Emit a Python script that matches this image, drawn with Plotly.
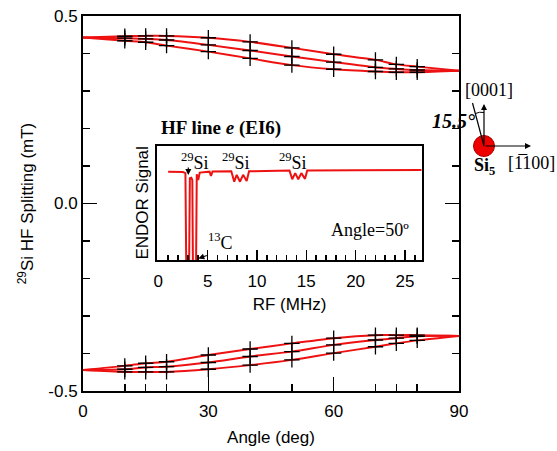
import plotly.graph_objects as go

# ---------------- data ----------------
angles = [0, 10, 15, 20, 30, 40, 50, 60, 70, 75, 80, 90]
upper_a = [0.443, 0.446, 0.447, 0.447, 0.442, 0.431, 0.415, 0.398, 0.383, 0.371, 0.365, 0.354]
upper_b = [0.443, 0.441, 0.439, 0.436, 0.423, 0.408, 0.392, 0.377, 0.363, 0.359, 0.356, 0.354]
upper_c = [0.443, 0.434, 0.430, 0.421, 0.405, 0.387, 0.369, 0.358, 0.352, 0.350, 0.350, 0.354]
lower_a = [-0.444, -0.433, -0.426, -0.422, -0.404, -0.388, -0.373, -0.359, -0.351, -0.351, -0.351, -0.353]
lower_b = [-0.444, -0.442, -0.437, -0.435, -0.424, -0.408, -0.395, -0.377, -0.364, -0.359, -0.354, -0.353]
lower_c = [-0.444, -0.449, -0.449, -0.449, -0.442, -0.431, -0.417, -0.399, -0.382, -0.373, -0.365, -0.353]

x_major_ticks = [0, 30, 60, 90]
x_major_labels = ["0", "30", "60", "90"]
x_minor_ticks = [10, 15, 20, 40, 50, 70, 75, 80]
y_major_ticks = [0.5, 0.0, -0.5]
y_major_labels = ["0.5", "0.0", "-0.5"]
y_minor_ticks = [0.4, 0.3, 0.2, 0.1, -0.1, -0.2, -0.3, -0.4]

# inset ENDOR spectrum (RF in MHz, signal in arbitrary units)
rf_mhz = [1.0, 2.5, 2.75, 2.88, 3.08, 3.2, 3.35, 3.45, 3.55, 3.79, 3.9, 4.05, 4.2,
          5.2, 5.34, 5.5, 7.4, 7.7, 7.95, 8.28, 8.6, 8.96, 9.2,
          13.3, 13.58, 13.88, 14.19, 14.5, 14.87, 15.1, 20.0, 26.7]
endor_signal = [0.773, 0.770, 0.760, -0.5, -0.5, 0.715, 0.720, 0.700, -0.5, -0.5, 0.750, 0.700, 0.765,
                0.773, 0.735, 0.774, 0.776, 0.685, 0.745, 0.685, 0.745, 0.690, 0.776,
                0.782, 0.707, 0.760, 0.707, 0.760, 0.710, 0.784, 0.786, 0.788]
inset_major_ticks = [0, 5, 10, 15, 20, 25]
inset_minor_ticks = [1, 2, 3, 4, 6, 7, 8, 9, 11, 12, 13, 14, 16, 17, 18, 19, 21, 22, 23, 24, 26]

# ---------------- layout helpers ----------------
FIG_W, FIG_H = 557, 451
L, T, W, H = 83, 16, 376, 375


def px(x):
    return (x - L) / W


def py(y):
    return (T + H - y) / H


RED = "#ee1111"
SANS = "Liberation Sans, Arial, sans-serif"
SERIF = "Liberation Serif, Times New Roman, serif"
FS = 17

fig = go.Figure()

for ys in [upper_a, upper_b, upper_c, lower_a, lower_b, lower_c]:
    fig.add_trace(go.Scatter(x=angles, y=ys, mode="lines",
                             line=dict(color=RED, width=2, shape="spline", smoothing=0.8),
                             showlegend=False, hoverinfo="skip"))
for ys in [upper_a, upper_b, upper_c, lower_a, lower_b, lower_c]:
    fig.add_trace(go.Scatter(x=angles[1:-1], y=ys[1:-1], mode="markers",
                             marker=dict(symbol="cross-thin", size=11,
                                         line=dict(color="black", width=1.3)),
                             showlegend=False, hoverinfo="skip"))

fig.add_trace(go.Scatter(x=rf_mhz, y=endor_signal, mode="lines", xaxis="x2", yaxis="y2",
                         line=dict(color=RED, width=2), showlegend=False, hoverinfo="skip"))

fig.update_layout(
    width=FIG_W, height=FIG_H,
    margin=dict(l=L, r=FIG_W - L - W, t=T, b=FIG_H - T - H, autoexpand=False),
    paper_bgcolor="white", plot_bgcolor="white",
    font=dict(family=SANS, size=FS, color="black"),
    hovermode=False,
    xaxis=dict(range=[0, 90], showgrid=False, zeroline=False, automargin=False,
               showline=True, linecolor="black", linewidth=2, mirror=True,
               tickmode="array", tickvals=x_major_ticks, ticktext=x_major_labels,
               ticks="inside", ticklen=14, tickwidth=1.5, tickcolor="black",
               minor=dict(tickmode="array", tickvals=x_minor_ticks, ticks="inside",
                          ticklen=7, tickwidth=1.5, tickcolor="black"),
               tickfont=dict(size=FS), ticklabelstandoff=4,
               title=dict(text="Angle (deg)", font=dict(size=FS), standoff=11)),
    yaxis=dict(range=[-0.5, 0.5], showgrid=False, zeroline=False, automargin=False,
               showline=True, linecolor="black", linewidth=2, mirror="ticks",
               tickmode="array", tickvals=y_major_ticks, ticktext=y_major_labels,
               ticks="inside", ticklen=14, tickwidth=1.5, tickcolor="black",
               minor=dict(tickmode="array", tickvals=y_minor_ticks, ticks="inside",
                          ticklen=7, tickwidth=1.5, tickcolor="black"),
               tickfont=dict(size=FS),
               title=dict(text="<sup>29</sup>Si HF Splitting (mT)", font=dict(size=FS), standoff=10)),
    xaxis2=dict(domain=[px(157.3), px(421.7)], anchor="y2", range=[-0.1, 26.7],
                showgrid=False, zeroline=False, showline=True, linecolor="black",
                linewidth=2, mirror=True, automargin=False,
                tickmode="array", tickvals=inset_major_ticks,
                ticks="inside", ticklen=10, tickwidth=1.5, tickcolor="black",
                minor=dict(tickmode="array", tickvals=inset_minor_ticks, ticks="inside",
                           ticklen=5, tickwidth=1.5, tickcolor="black"),
                tickfont=dict(size=FS), ticklabelstandoff=5,
                title=dict(text="RF (MHz)", font=dict(size=FS), standoff=8)),
    yaxis2=dict(domain=[py(260), py(145.7)], anchor="x2", range=[0, 1],
                showgrid=False, zeroline=False, showline=True, linecolor="black",
                linewidth=2, mirror=True, showticklabels=False, ticks="", automargin=False,
                title=dict(text="ENDOR Signal", font=dict(size=FS), standoff=2)),
)

ann = []


def text(x, y, s, size=18, family=SERIF, xanchor="center"):
    ann.append(dict(x=px(x), y=py(y), xref="paper", yref="paper", text=s, showarrow=False,
                    font=dict(family=family, size=size, color="black"),
                    xanchor=xanchor, yanchor="middle"))


text(221, 128, "<b>HF line <i>e</i> (EI6)</b>", size=19)
text(195, 161, "<sup>29</sup>Si", size=18)
text(236, 161, "<sup>29</sup>Si", size=18)
text(292.5, 161, "<sup>29</sup>Si", size=18)
text(220, 241, "<sup>13</sup>C", size=18)
text(370, 230, "Angle=50º", size=18)
text(489, 90, "[0001]", size=18)
text(453, 121, "<b><i>15.5°</i></b>", size=20)
text(485, 166, "<b>Si<sub>5</sub></b>", size=18)
text(557, 163, "[1\u0305100]", size=18, xanchor="right")

# arrows
ann.append(dict(x=px(188.3), y=py(175), xref="paper", yref="paper", text="",
                showarrow=True, arrowhead=2, arrowsize=1, arrowwidth=1.2, arrowcolor="black",
                ax=0, ay=-9))
ann.append(dict(x=px(198.3), y=py(258.5), xref="paper", yref="paper", text="",
                showarrow=True, arrowhead=2, arrowsize=1, arrowwidth=1.2, arrowcolor="black",
                ax=10, ay=-3.5))
ann.append(dict(x=px(484), y=py(104), xref="paper", yref="paper", text="",
                showarrow=True, arrowhead=2, arrowsize=1, arrowwidth=1.2, arrowcolor="black",
                ax=0, ay=42))
ann.append(dict(x=px(531), y=py(146), xref="paper", yref="paper", text="",
                showarrow=True, arrowhead=2, arrowsize=1, arrowwidth=1.2, arrowcolor="black",
                ax=-47, ay=0))
fig.update_layout(annotations=ann)

r = 10.5
fig.add_shape(type="circle", xref="paper", yref="paper",
              x0=px(484 - r), x1=px(484 + r), y0=py(146 + r), y1=py(146 - r),
              fillcolor="#ee0000", line=dict(color="#aa0000", width=1), layer="below")
fig.add_shape(type="line", xref="paper", yref="paper",
              x0=px(484), y0=py(146), x1=px(472.5), y1=py(103),
              line=dict(color="black", width=1.2))
fig.add_shape(type="path", xref="paper", yref="paper",
              path=f"M {px(475.5)} {py(113.5)} Q {px(479.5)} {py(111.5)} {px(484)} {py(112.5)}",
              line=dict(color="black", width=1))

fig.write_html("out.html", config={"displayModeBar": False, "staticPlot": True},
               post_script="document.body.style.margin='0';document.body.style.overflow='hidden';")
